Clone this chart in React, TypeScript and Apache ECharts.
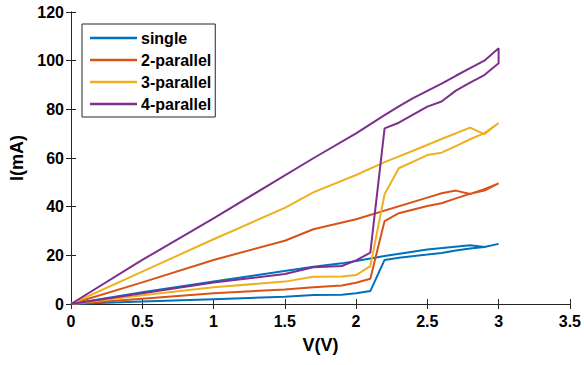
import React, { useEffect, useRef } from "react";
import * as echarts from "echarts";

const seriesNames = ["single", "2-parallel", "3-parallel", "4-parallel"];
const colors = ["#0072BD", "#D95319", "#EDB120", "#7E2F8E"];

// sweep up (low branch, switch, high branch to 3 V) then sweep back down to 0 V
const singleV = [0, 0.5, 1.0, 1.5, 1.7, 1.9, 2.0, 2.1, 2.2, 2.3, 2.5, 2.6, 2.7, 2.8, 2.9, 3.0, 3.0, 2.9, 2.8, 2.5, 2.2, 2.0, 1.9, 1.7, 1.0, 0.5, 0];
const singleI = [0, 1.0, 2.0, 3.0, 3.7, 3.8, 4.4, 5.3, 18.1, 19.0, 20.3, 21.0, 22.0, 22.8, 23.4, 24.7, 24.7, 23.4, 24.1, 22.4, 19.7, 17.7, 16.7, 15.3, 9.2, 4.8, 0];

const par2V = [0, 0.5, 1.0, 1.5, 1.7, 1.9, 2.0, 2.1, 2.2, 2.3, 2.5, 2.6, 2.7, 2.8, 2.9, 3.0, 3.0, 2.9, 2.8, 2.7, 2.6, 2.5, 2.0, 1.7, 1.5, 1.0, 0.5, 0];
const par2I = [0, 2.2, 4.4, 6.0, 6.9, 7.6, 8.7, 10.4, 34.1, 37.3, 40.3, 41.4, 43.4, 45.3, 46.6, 49.6, 49.6, 47.2, 45.2, 46.6, 45.5, 43.7, 34.8, 30.7, 26.0, 18.1, 8.9, 0];

const par3V = [0, 0.5, 1.0, 1.5, 1.7, 1.9, 2.0, 2.1, 2.2, 2.3, 2.5, 2.6, 2.7, 2.8, 2.9, 3.0, 3.0, 2.9, 2.8, 2.6, 2.4, 2.2, 2.0, 1.7, 1.5, 1.0, 0.5, 0];
const par3I = [0, 3.6, 6.9, 9.2, 11.2, 11.3, 11.9, 15.6, 45.1, 55.8, 61.2, 62.2, 64.9, 67.7, 70.2, 74.4, 74.4, 69.8, 72.5, 67.8, 63.0, 58.3, 53.0, 45.9, 39.5, 26.6, 13.3, 0];

const par4V = [0, 0.5, 1.0, 1.5, 1.7, 1.9, 2.0, 2.1, 2.2, 2.3, 2.5, 2.6, 2.7, 2.8, 2.9, 3.0, 3.0, 2.9, 2.8, 2.7, 2.6, 2.5, 2.4, 2.3, 2.2, 2.0, 1.7, 1.0, 0.5, 0];
const par4I = [0, 4.4, 8.8, 12.3, 15.1, 15.6, 17.9, 21.1, 72.2, 74.5, 81.1, 83.2, 87.7, 91.0, 94.1, 98.9, 105.1, 100.0, 96.9, 93.8, 90.6, 87.6, 84.6, 81.2, 77.6, 70.1, 59.9, 35.2, 18.1, 0];

const xTicks = { min: 0, max: 3.5, interval: 0.5 };
const yTicks = { min: 0, max: 120, interval: 20 };

const FONT = "'Liberation Sans', Arial, Helvetica, sans-serif";
const AXIS_COLOR = "#262626";

function pairs(v: number[], i: number[]) {
  return v.map((x, k) => [x, i[k]]);
}

export default function App() {
  const ref = useRef<HTMLDivElement>(null);
  useEffect(() => {
    if (!ref.current) return;
    const chart = echarts.init(ref.current, undefined, { renderer: "svg" });
    const allData = [
      pairs(singleV, singleI),
      pairs(par2V, par2I),
      pairs(par3V, par3I),
      pairs(par4V, par4I),
    ];
    const axisLine = { show: true, lineStyle: { color: AXIS_COLOR, width: 1 } };
    const tickIn = { show: true, inside: true, length: 5, lineStyle: { color: AXIS_COLOR, width: 1 } };
    chart.setOption({
      animation: false,
      backgroundColor: "#ffffff",
      grid: { left: 68, right: 13, top: 12, bottom: 61, containLabel: false },
      legend: {
        orient: "vertical",
        left: 82,
        top: 24,
        data: seriesNames.map((n) => ({ name: n, icon: "rect" })),
        itemWidth: 47,
        itemHeight: 2.5,
        itemGap: 6,
        padding: [6, 4, 5, 8],
        borderColor: AXIS_COLOR,
        borderWidth: 1,
        backgroundColor: "#ffffff",
        textStyle: { color: "#000", fontFamily: FONT, fontWeight: "bold", fontSize: 16, lineHeight: 16, padding: [0, 0, 0, -1] },
      },
      xAxis: [
        {
          type: "value",
          ...xTicks,
          name: "V(V)",
          nameLocation: "middle",
          nameGap: 32,
          nameTextStyle: { color: "#000", fontFamily: FONT, fontWeight: "bold", fontSize: 18 },
          axisLine,
          axisTick: tickIn,
          splitLine: { show: false },
          axisLabel: { color: "#000", fontFamily: FONT, fontWeight: "bold", fontSize: 16, margin: 9 },
        },
        {
          type: "value",
          position: "top",
          ...xTicks,
          axisLine,
          axisTick: tickIn,
          splitLine: { show: false },
          axisLabel: { show: false },
        },
      ],
      yAxis: [
        {
          type: "value",
          ...yTicks,
          name: "I(mA)",
          nameLocation: "middle",
          nameGap: 45,
          nameTextStyle: { color: "#000", fontFamily: FONT, fontWeight: "bold", fontSize: 18 },
          axisLine,
          axisTick: tickIn,
          splitLine: { show: false },
          axisLabel: { color: "#000", fontFamily: FONT, fontWeight: "bold", fontSize: 16, margin: 7 },
        },
        {
          type: "value",
          position: "right",
          ...yTicks,
          axisLine,
          axisTick: tickIn,
          splitLine: { show: false },
          axisLabel: { show: false },
        },
      ],
      series: seriesNames.map((name, k) => ({
        name,
        type: "line",
        xAxisIndex: 0,
        yAxisIndex: 0,
        data: allData[k],
        symbol: "none",
        showSymbol: false,
        color: colors[k],
        itemStyle: { color: colors[k] },
        lineStyle: { color: colors[k], width: 2 },
      })),
    });
    return () => chart.dispose();
  }, []);
  return <div ref={ref} style={{ width: 584, height: 365, position: "absolute", left: 0, top: 0 }} />;
}
